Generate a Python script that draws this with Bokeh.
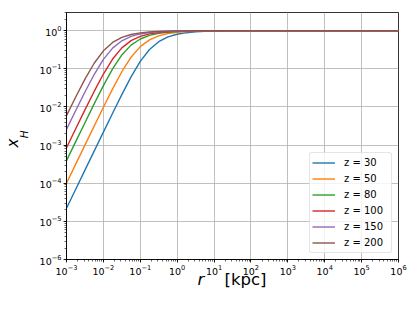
from bokeh.plotting import figure
from bokeh.models import Title, Range1d, LogAxis, FixedTicker
from bokeh.embed import file_html
from bokeh.resources import INLINE

# radius samples [kpc]
r = [0.001, 0.001778, 0.003162, 0.005623, 0.01, 0.01778, 0.03162, 0.05623,
     0.1, 0.1778, 0.3162, 0.5623, 1.0, 1.778, 3.162, 5.623, 10.0, 31.62,
     100.0, 1000.0, 1.0e6]

# neutral fraction x_H, one list per redshift
xh_z30 = [2.2e-5, 6.96e-5, 2.2e-4, 6.95e-4, 2.19e-3, 6.86e-3, 0.02108, 0.0613,
          0.1565, 0.3209, 0.5158, 0.6860, 0.8083, 0.8871, 0.9348, 0.9628,
          0.9789, 0.99328, 0.99787, 0.99979, 1.0]
xh_z50 = [1.0e-4, 3.16e-4, 9.98e-4, 3.142e-3, 9.80e-3, 0.02977, 0.08392, 0.2016,
          0.3820, 0.5740, 0.7298, 0.8373, 0.9049, 0.9453, 0.9689, 0.9824,
          0.9900, 0.99684, 0.9990, 0.9999, 1.0]
xh_z80 = [3.90e-4, 1.230e-3, 3.870e-3, 0.012038, 0.03623, 0.09991, 0.2308, 0.4179,
          0.6059, 0.7529, 0.8522, 0.9139, 0.9506, 0.9719, 0.9841, 0.9910,
          0.99495, 0.9984, 0.9995, 1.0, 1.0]
xh_z100 = [8.49e-4, 2.674e-3, 8.359e-3, 0.02553, 0.07304, 0.1805, 0.3543, 0.5483,
           0.7108, 0.8248, 0.8973, 0.9408, 0.9663, 0.9809, 0.9892, 0.9939,
           0.99657, 0.99892, 0.99966, 1.0, 1.0]
xh_z150 = [2.587e-3, 8.090e-3, 0.02473, 0.07096, 0.1764, 0.3487, 0.5430, 0.7068,
           0.8222, 0.8956, 0.9399, 0.9657, 0.9806, 0.9890, 0.99382, 0.99652,
           0.99804, 0.99938, 0.9998, 1.0, 1.0]
xh_z200 = [5.929e-3, 0.01829, 0.05373, 0.1402, 0.2967, 0.4912, 0.6667, 0.7953,
           0.8790, 0.9300, 0.9600, 0.9773, 0.9872, 0.99277, 0.99593, 0.99771,
           0.99871, 0.99959, 0.99987, 1.0, 1.0]

series = [("z = 30", xh_z30), ("z = 50", xh_z50), ("z = 80", xh_z80),
          ("z = 100", xh_z100), ("z = 150", xh_z150), ("z = 200", xh_z200)]
colors = ["#1f77b4", "#ff7f0e", "#2ca02c", "#d62728", "#9467bd", "#8c564b"]

FONT = "DejaVu Sans"

p = figure(width=408, height=308, x_axis_type="log", y_axis_type="log",
           x_range=Range1d(1e-3, 1e6), y_range=Range1d(1e-6, 3.0),
           output_backend="svg", toolbar_location=None, title=None,
           min_border_left=62, min_border_right=10,
           min_border_top=12, min_border_bottom=49)

p.background_fill_color = "white"
p.border_fill_color = "white"
p.outline_line_color = "black"
p.outline_line_width = 0.8

for (lab, ys), c in zip(series, colors):
    p.line(r, ys, line_color=c, line_width=1.4, legend_label=lab)

for ax in (p.xaxis[0], p.yaxis[0]):
    ax.axis_line_color = "black"
    ax.axis_line_width = 0.8
    ax.major_tick_line_color = "black"
    ax.minor_tick_line_color = "black"
    ax.major_tick_line_width = 0.8
    ax.minor_tick_line_width = 0.6
    ax.major_tick_in = 0
    ax.major_tick_out = 3
    ax.minor_tick_in = 0
    ax.minor_tick_out = 2
    ax.major_label_text_font = FONT
    ax.major_label_text_font_size = "9.5px"
    ax.major_label_text_color = "black"
    ax.major_label_standoff = 2
    ax.axis_label = None

p.xaxis.ticker.num_minor_ticks = 10
p.yaxis.ticker.num_minor_ticks = 10

p.xgrid.grid_line_color = "#b0b0b0"
p.ygrid.grid_line_color = "#b0b0b0"
p.xgrid.grid_line_width = 0.8
p.ygrid.grid_line_width = 0.8


def bare_axis(tick_out=0):
    a = LogAxis(ticker=FixedTicker(ticks=[]), axis_line_color=None,
                major_tick_in=0, major_tick_out=tick_out,
                minor_tick_in=0, minor_tick_out=0,
                major_tick_line_color=None, minor_tick_line_color=None,
                major_label_standoff=0)
    return a


# spacer below the x axis, then "r    [kpc]"
p.add_layout(bare_axis(tick_out=8), "below")
p.add_layout(Title(text="r", text_font=FONT, text_font_style="italic",
                   text_font_size="16.5px", text_color="black", align="left",
                   vertical_align="bottom", offset=131, standoff=-20), "below")
p.add_layout(Title(text="[kpc]", text_font=FONT, text_font_style="normal",
                   text_font_size="16.5px", text_color="black", align="left",
                   vertical_align="bottom", offset=158, standoff=-21), "below")

# y label x_H as two rotated axis labels (subscript nearer the axis)
ax_h = bare_axis()
ax_h.axis_label = "\u00a0H"
ax_h.axis_label_text_font = FONT
ax_h.axis_label_text_font_style = "italic"
ax_h.axis_label_text_font_size = "10.5px"
ax_h.axis_label_text_color = "black"
ax_h.axis_label_standoff = 7
p.add_layout(ax_h, "left")

ax_x = bare_axis()
ax_x.axis_label = "x\u00a0\u00a0\u00a0"
ax_x.axis_label_text_font = FONT
ax_x.axis_label_text_font_style = "italic"
ax_x.axis_label_text_font_size = "15px"
ax_x.axis_label_text_color = "black"
ax_x.axis_label_standoff = -7
p.add_layout(ax_x, "left")

lg = p.legend[0]
lg.location = "bottom_right"
lg.margin = 6
lg.padding = 2
lg.spacing = 1
lg.glyph_width = 23
lg.glyph_height = 15
lg.label_height = 15
lg.label_width = 45
lg.label_standoff = 9
lg.label_text_font = FONT
lg.label_text_font_size = "10px"
lg.label_text_color = "black"
lg.border_line_color = "#cccccc"
lg.border_line_width = 1
lg.border_radius = 3
lg.background_fill_alpha = 0.8

open("out.html", "w").write(file_html(p, INLINE))
